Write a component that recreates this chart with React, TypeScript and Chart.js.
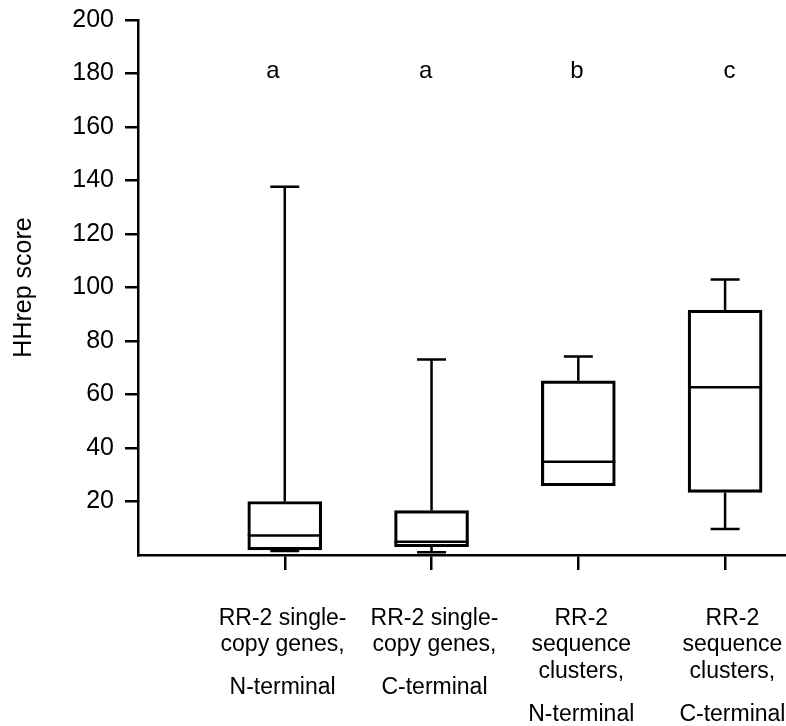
import React, { useEffect, useRef } from "react";
import { Chart, registerables } from "chart.js";

Chart.register(...registerables);

// ---- data ----
const categoryLines: string[][] = [
  ["RR-2 single-", "copy genes,", "N-terminal"],
  ["RR-2 single-", "copy genes,", "C-terminal"],
  ["RR-2", "sequence", "clusters,", "N-terminal"],
  ["RR-2", "sequence", "clusters,", "C-terminal"],
];
const positions = [1, 2, 3, 4];
const labelPositions = [0.985, 2.02, 3.02, 4.05];
const whiskerLow = [1.5, 1.0, 25.9, 9.7];
const q1 = [1.9, 3.1, 25.9, 23.4];
const median = [7.3, 5.0, 34.9, 62.7];
const q3 = [20.0, 16.6, 65.1, 91.5];
const whiskerHigh = [137.7, 73.1, 74.2, 103.0];
const groupLetters = ["a", "a", "b", "c"];
const letterPositions = [0.92, 1.96, 2.99, 4.03];
const letterLevel = 178.4;
const yTickValues = [20, 40, 60, 80, 100, 120, 140, 160, 180, 200];
const yTitle = "HHrep score";

const FONT = "'Liberation Sans', Arial, Helvetica, sans-serif";
const LW = 2.5;

const boxExtras = {
  id: "boxExtras",
  afterDatasetsDraw(chart: any) {
    const ctx = chart.ctx;
    const ys = chart.scales.y;
    const xs = chart.scales.x;
    const meta = chart.getDatasetMeta(0);
    ctx.save();
    ctx.strokeStyle = "#000";
    ctx.lineWidth = LW;
    ctx.lineCap = "butt";
    const capHalf = 14.5;
    meta.data.forEach((bar: any, i: number) => {
      const { x, width } = bar.getProps(["x", "width"], true);
      const yMed = ys.getPixelForValue(median[i]);
      ctx.beginPath();
      ctx.moveTo(x - width / 2, yMed);
      ctx.lineTo(x + width / 2, yMed);
      ctx.stroke();
      const yQ3 = ys.getPixelForValue(q3[i]);
      const yHi = ys.getPixelForValue(whiskerHigh[i]);
      const yQ1 = ys.getPixelForValue(q1[i]);
      const yLo = ys.getPixelForValue(whiskerLow[i]);
      ctx.beginPath();
      ctx.moveTo(x, yQ3);
      ctx.lineTo(x, yHi);
      ctx.moveTo(x - capHalf, yHi);
      ctx.lineTo(x + capHalf, yHi);
      if (whiskerLow[i] < q1[i]) {
        ctx.moveTo(x, yQ1);
        ctx.lineTo(x, yLo);
        ctx.moveTo(x - capHalf, yLo);
        ctx.lineTo(x + capHalf, yLo);
      }
      ctx.stroke();
    });
    ctx.fillStyle = "#000";
    ctx.font = `24px ${FONT}`;
    ctx.textAlign = "center";
    ctx.textBaseline = "alphabetic";
    groupLetters.forEach((t, i) => {
      ctx.fillText(t, xs.getPixelForValue(letterPositions[i]), ys.getPixelForValue(letterLevel));
    });
    ctx.restore();
  },
  afterDraw(chart: any) {
    const ctx = chart.ctx;
    const xs = chart.scales.x;
    ctx.save();
    ctx.fillStyle = "#000";
    ctx.font = `23px ${FONT}`;
    ctx.textAlign = "center";
    ctx.textBaseline = "alphabetic";
    categoryLines.forEach((lines, i) => {
      const cx = xs.getPixelForValue(labelPositions[i]);
      lines.forEach((line, j) => {
        const extra = j === lines.length - 1 ? 16 : 0;
        ctx.fillText(line, cx, xs.top + 69.5 + j * 26.8 + extra);
      });
    });
    ctx.restore();
  },
};

export default function App() {
  const ref = useRef<HTMLCanvasElement | null>(null);
  useEffect(() => {
    if (!ref.current) return;
    const chart = new Chart(ref.current, {
      type: "bar",
      data: {
        datasets: [
          {
            data: positions.map((p, i) => ({ x: p, y: [q1[i], q3[i]] })) as any,
            backgroundColor: "rgba(255,255,255,0)",
            borderColor: "#000",
            borderWidth: LW,
            borderSkipped: false,
            barThickness: 74,
          },
        ],
      },
      options: {
        responsive: false,
        animation: false,
        devicePixelRatio: 1,
        layout: { padding: { top: 20, left: 0, right: 0, bottom: 0 } },
        plugins: { legend: { display: false }, tooltip: { enabled: false } },
        scales: {
          x: {
            type: "linear",
            min: 0,
            max: 4.415,
            offset: false,
            afterBuildTicks: (s: any) => {
              s.ticks = positions.map((v) => ({ value: v }));
            },
            afterFit: (s: any) => {
              s.height = 171;
              s.paddingLeft = 0;
              s.paddingRight = 0;
            },
            ticks: { display: false },
            grid: {
              offset: false,
              drawOnChartArea: false,
              drawTicks: true,
              tickLength: 15,
              color: "#000",
              lineWidth: LW,
            },
            border: { display: true, color: "#000", width: LW },
          },
          y: {
            type: "linear",
            min: 0,
            max: 200,
            afterBuildTicks: (s: any) => {
              s.ticks = yTickValues.map((v) => ({ value: v }));
            },
            afterFit: (s: any) => {
              s.width = 138;
              s.paddingTop = 0;
              s.paddingBottom = 0;
            },
            ticks: {
              color: "#000",
              padding: 11,
              font: { family: FONT, size: 25 },
            },
            grid: {
              drawOnChartArea: false,
              drawTicks: true,
              tickLength: 13,
              color: "#000",
              lineWidth: LW,
            },
            border: { display: true, color: "#000", width: LW },
            title: {
              display: true,
              text: yTitle,
              color: "#000",
              font: { family: FONT, size: 25 },
              padding: { top: 9, bottom: 0 },
            },
          },
        },
      },
      plugins: [boxExtras],
    });
    return () => chart.destroy();
  }, []);
  return (
    <div style={{ position: "absolute", left: 0, top: 0, width: 786, height: 726, background: "#fff" }}>
      <canvas ref={ref} width={786} height={726} style={{ display: "block" }} />
    </div>
  );
}
